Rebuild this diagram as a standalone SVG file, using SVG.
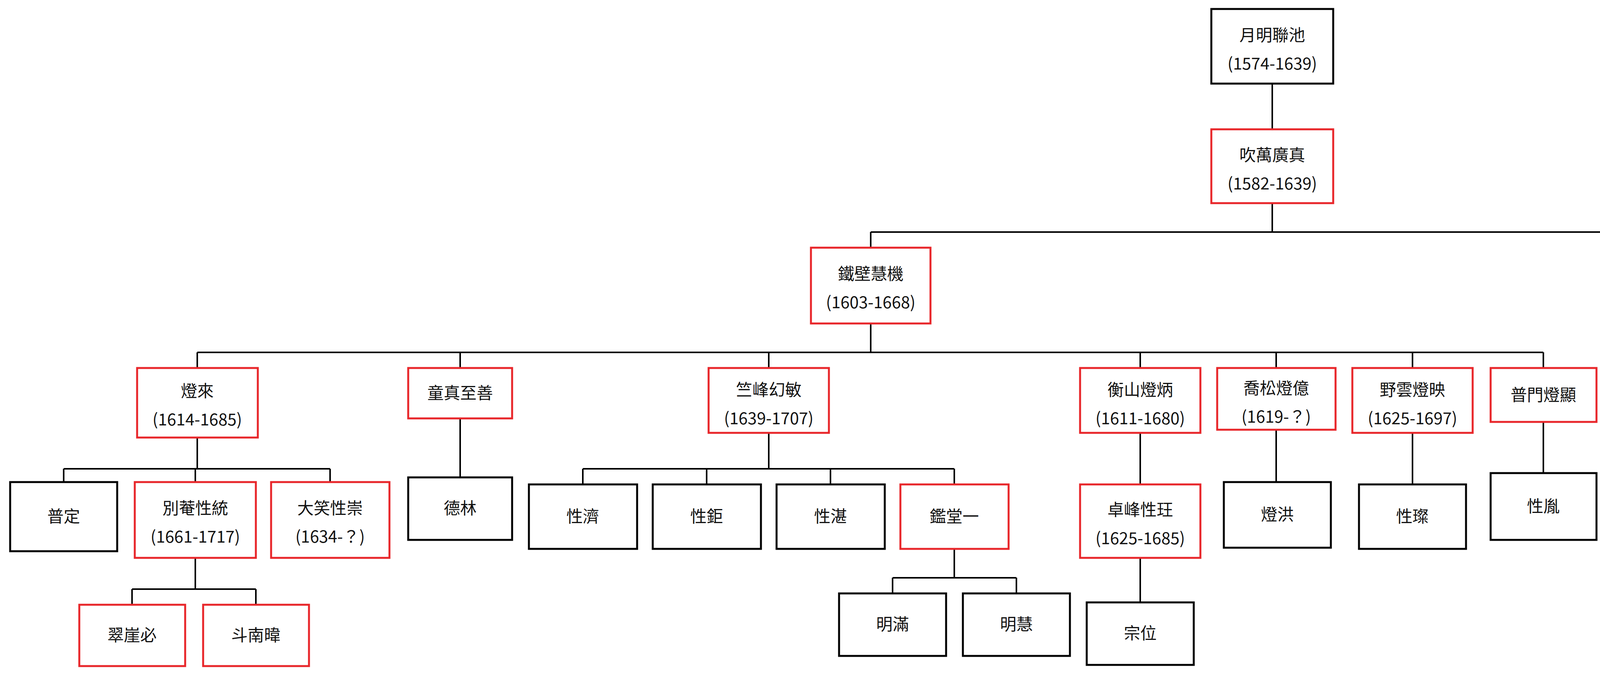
<svg xmlns="http://www.w3.org/2000/svg" width="4478" height="1756" viewBox="0 0 4478 1756">
<style>
rect{fill:#fff;stroke-width:5}
.b rect{stroke:#000}
.r rect{stroke:#e8262a}
text{font-family:"Noto Sans CJK TC","Noto Sans CJK SC",sans-serif;font-size:42px;fill:#111;text-anchor:middle}
#conn path{fill:none;stroke:#000;stroke-width:4}
</style>
<rect x="0" y="0" width="4478" height="1756" style="fill:#fff;stroke:none"/>
<g id="conn">
<path d="M3257 214V331M3257 520V594M2229 594H4287M2229 594V634M4287 594V634"/>
<path d="M2229 828V902M505 902H3951M505 902V942M1178 902V942M1968 902V942M2919 902V942M3267 902V942M3616 902V942M3951 902V942M4287 828V942"/>
<path d="M505 1120V1200M163 1200H845M163 1200V1234M500 1200V1234M845 1200V1234"/>
<path d="M500 1428V1508M338 1508H655M338 1508V1548M655 1508V1548"/>
<path d="M1178 1071V1222"/>
<path d="M1968 1108V1200M1492 1200H2443M1492 1200V1240M1809 1200V1240M2126 1200V1240M2443 1200V1240"/>
<path d="M2443 1405V1479M2285 1479H2602M2285 1479V1519M2602 1479V1519"/>
<path d="M2919 1108V1240M2919 1428V1542M3267 1100V1234M3616 1108V1240M3951 1080V1211M4287 1108V1240"/>
</g>
<g id="n1" class="b"><rect x="3101" y="23" width="312" height="191"/><text x="3257" y="105">月明聯池</text><text x="3257" y="178">(1574-1639)</text></g>
<g id="n2" class="r"><rect x="3101" y="331" width="312" height="189"/><text x="3257" y="412">吹萬廣真</text><text x="3257" y="485">(1582-1639)</text></g>
<g id="n3" class="r"><rect x="2076" y="634" width="306" height="194"/><text x="2229" y="716">鐵壁慧機</text><text x="2229" y="789">(1603-1668)</text></g>
<g id="n4" class="r"><rect x="4133" y="634" width="308" height="194"/><text x="4287" y="716">鐵眉慧麗</text><text x="4287" y="789">(1586-1650)</text></g>
<g id="n5" class="r"><rect x="351" y="942" width="309" height="178"/><text x="505" y="1016">燈來</text><text x="505" y="1089">(1614-1685)</text></g>
<g id="n6" class="r"><rect x="1045" y="942" width="266" height="129"/><text x="1178" y="1021">童真至善</text></g>
<g id="n7" class="r"><rect x="1814" y="942" width="308" height="166"/><text x="1968" y="1013">竺峰幻敏</text><text x="1968" y="1086">(1639-1707)</text></g>
<g id="n8" class="r"><rect x="2765" y="942" width="308" height="166"/><text x="2919" y="1013">衡山燈炳</text><text x="2919" y="1086">(1611-1680)</text></g>
<g id="n9" class="r"><rect x="3116" y="942" width="303" height="158"/><text x="3267" y="1009">喬松燈億</text><text x="3267" y="1082">(1619-？)</text></g>
<g id="n10" class="r"><rect x="3462" y="942" width="308" height="166"/><text x="3616" y="1013">野雲燈映</text><text x="3616" y="1086">(1625-1697)</text></g>
<g id="n11" class="r"><rect x="3816" y="942" width="271" height="138"/><text x="3951" y="1026">普門燈顯</text></g>
<g id="n12" class="r"><rect x="4133" y="942" width="308" height="166"/><text x="4287" y="1013">耳菴燈嵩</text><text x="4287" y="1086">(1611-1656)</text></g>
<g id="n13" class="b"><rect x="26" y="1234" width="274" height="177"/><text x="163" y="1337">普定</text></g>
<g id="n14" class="r"><rect x="345" y="1234" width="310" height="194"/><text x="500" y="1316">別菴性統</text><text x="500" y="1389">(1661-1717)</text></g>
<g id="n15" class="r"><rect x="694" y="1234" width="303" height="194"/><text x="845" y="1316">大笑性崇</text><text x="845" y="1389">(1634-？)</text></g>
<g id="n16" class="r"><rect x="203" y="1548" width="271" height="157"/><text x="338" y="1641">翠崖必</text></g>
<g id="n17" class="r"><rect x="520" y="1548" width="271" height="157"/><text x="655" y="1641">斗南暐</text></g>
<g id="n18" class="b"><rect x="1045" y="1222" width="266" height="160"/><text x="1178" y="1316">德林</text></g>
<g id="n19" class="b"><rect x="1354" y="1240" width="277" height="165"/><text x="1492" y="1337">性濟</text></g>
<g id="n20" class="b"><rect x="1671" y="1240" width="277" height="165"/><text x="1809" y="1337">性鉅</text></g>
<g id="n21" class="b"><rect x="1988" y="1240" width="277" height="165"/><text x="2126" y="1337">性湛</text></g>
<g id="n22" class="r"><rect x="2305" y="1240" width="277" height="165"/><text x="2443" y="1337">鑑堂一</text></g>
<g id="n23" class="b"><rect x="2148" y="1519" width="274" height="160"/><text x="2285" y="1613">明滿</text></g>
<g id="n24" class="b"><rect x="2465" y="1519" width="274" height="160"/><text x="2602" y="1613">明慧</text></g>
<g id="n25" class="r"><rect x="2765" y="1240" width="308" height="188"/><text x="2919" y="1320">卓峰性玨</text><text x="2919" y="1393">(1625-1685)</text></g>
<g id="n26" class="b"><rect x="2782" y="1542" width="274" height="160"/><text x="2919" y="1636">宗位</text></g>
<g id="n27" class="b"><rect x="3133" y="1234" width="274" height="168"/><text x="3270" y="1332">燈洪</text></g>
<g id="n28" class="b"><rect x="3479" y="1240" width="274" height="165"/><text x="3616" y="1337">性璨</text></g>
<g id="n29" class="b"><rect x="3816" y="1211" width="271" height="171"/><text x="3951" y="1311">性胤</text></g>
<g id="n30" class="r"><rect x="4150" y="1240" width="274" height="159"/><text x="4287" y="1334">玉眉燈亮</text></g>
</svg>
